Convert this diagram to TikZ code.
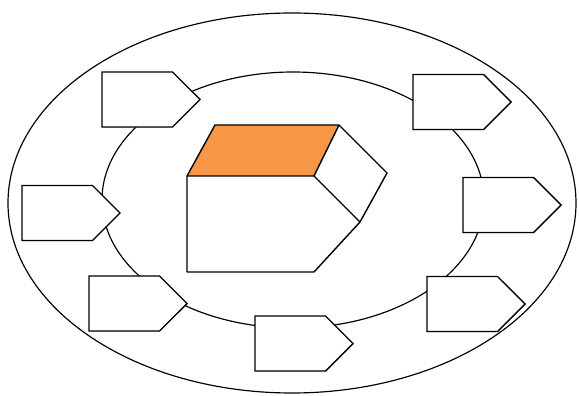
\documentclass[tikz,border=0pt]{standalone}
\usepackage{tikz}
\usetikzlibrary{positioning}
\usetikzlibrary{shapes.symbols, shadows}

\definecolor{topface}{RGB}{247,150,70}

\begin{document}
\begin{tikzpicture}[x=0.03cm, y=-0.03cm,
    tag/.style={draw, shape=signal, signal to=east, fill=white, line width=1.2pt,
        minimum width=2.94cm, minimum height=1.65cm, inner sep=0pt, outer sep=0pt, anchor=west,
        drop shadow={opacity=0.25, shadow xshift=0.5pt, shadow yshift=-0.7pt}}]
    \useasboundingbox (0,0) rectangle (579,396);
    \draw[line width=1pt] (292,203) ellipse [x radius=284, y radius=190];
    \draw[line width=1pt] (293,200) ellipse [x radius=191, y radius=128];
    % centre block
    \coordinate (F1) at (187,176);
    \coordinate (F2) at (314,176);
    \coordinate (T1) at (215,125);
    \coordinate (T2) at (339,125);
    \coordinate (P) at (387,173);
    \coordinate (S) at (360,222);
    \coordinate (B1) at (187,272);
    \coordinate (B2) at (314,272);
    \fill[topface] (F1) -- (T1) -- (T2) -- (F2) -- cycle;
    \draw[line width=1.2pt, line join=round] (F1) -- (T1) -- (T2) -- (P) -- (S) -- (B2) -- (B1) -- cycle;
    \draw[line width=1.2pt] (F1) -- (F2) -- (T2);
    \draw[line width=1.2pt] (F2) -- (S);
    % tags round the ring
    \node[tag] (A) at (102,99.5) {};
    \node[tag] (B) at (22,213) {};
    \node[tag] (C) at (89,303.5) {};
    \node[tag] (D) at (255,343.5) {};
    \node[tag] (E) at (427,304) {};
    \node[tag] (F) at (463,205) {};
    \node[tag] (G) at (413,102) {};
\end{tikzpicture}
\end{document}
